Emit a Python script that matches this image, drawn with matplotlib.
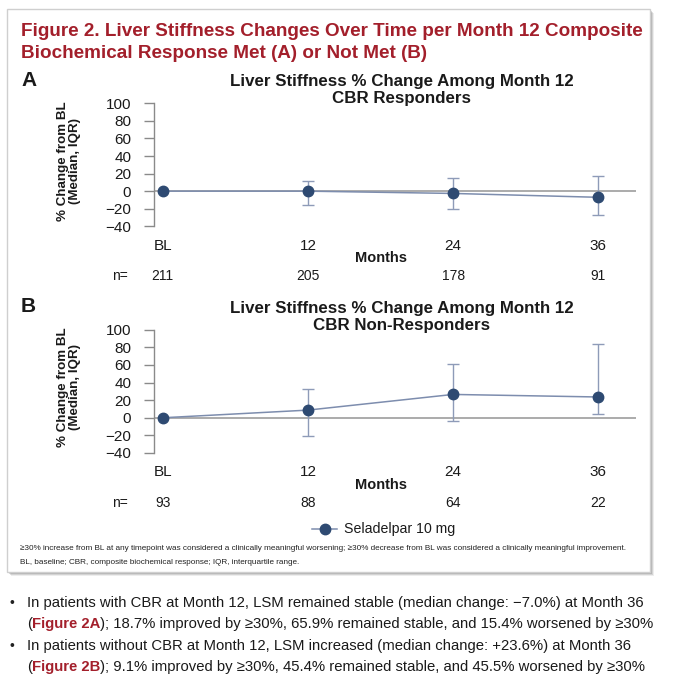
import matplotlib
matplotlib.use('Agg')
import matplotlib.pyplot as plt
from matplotlib import font_manager
from matplotlib.patches import Rectangle

# ---- data ----
months = [0, 12, 24, 36]
month_labels = ['BL', '12', '24', '36']

resp_median = [0, 0, -2.6, -7.0]
resp_q1 = [0, -15.8, -20, -27.5]
resp_q3 = [0, 11.3, 15.5, 17]
resp_n = [211, 205, 178, 91]

nonresp_median = [0, 8.7, 26.5, 23.6]
nonresp_q1 = [0, -21.2, -3.8, 4.2]
nonresp_q3 = [0, 32.2, 60.6, 83.7]
nonresp_n = [93, 88, 64, 22]

yticks = [-40, -20, 0, 20, 40, 60, 80, 100]

W, H = 677, 679
DPI = 100

names = {f.name for f in font_manager.fontManager.ttflist}
NARROW = 'Liberation Sans Narrow' if 'Liberation Sans Narrow' in names else 'Liberation Sans'
REG = 'Liberation Sans'
RED = '#A31F2B'
NAVY = '#2E4A72'
LINEC = '#7D8DAE'
ERRC = '#8E9BB8'

plt.rcParams['font.family'] = [REG, 'DejaVu Sans']

fig = plt.figure(figsize=(W / DPI, H / DPI), dpi=DPI)
renderer = fig.canvas.get_renderer()


def fx(x):
    return x / W


def fy(y):
    return 1 - y / H


# panel box with a soft shadow
for k, a in enumerate([0.10, 0.16, 0.22]):
    off = 4 - k
    fig.patches.append(Rectangle((fx(7 + off), fy(572 + off)), fx(643), 563 / H,
                                 transform=fig.transFigure, facecolor='#505050',
                                 edgecolor='none', alpha=a, zorder=0))
fig.patches.append(Rectangle((fx(7), fy(572)), fx(643), 563 / H,
                             transform=fig.transFigure, facecolor='white',
                             edgecolor='#CFCFCF', lw=1, zorder=1))

fig.text(fx(21), fy(31), 'Figure 2. Liver Stiffness Changes Over Time per Month 12 Composite',
         color=RED, fontsize=13.6, fontweight='bold', va='center', ha='left')
fig.text(fx(21), fy(53), 'Biochemical Response Met (A) or Not Met (B)',
         color=RED, fontsize=13.6, fontweight='bold', va='center', ha='left')

panels = [
    ('A', 80, 103.3, 226.3, 258, 276, 'Liver Stiffness % Change Among Month 12\nCBR Responders',
     resp_median, resp_q1, resp_q3, resp_n),
    ('B', 307, 329.7, 453, 485, 503, 'Liver Stiffness % Change Among Month 12\nCBR Non-Responders',
     nonresp_median, nonresp_q1, nonresp_q3, nonresp_n),
]

x_left, x_right = 153.5, 636
x_bl, x_36 = 162.7, 598.3
ppm = (x_36 - x_bl) / 36.0

for letter, ylet, y100, ym40, ymon, yn, title, med, q1, q3, nn in panels:
    ax = fig.add_axes([fx(x_left), fy(ym40), (x_right - x_left) / W, (ym40 - y100) / H])
    ax.set_xlim((x_left - x_bl) / ppm, (x_right - x_bl) / ppm)
    ax.set_ylim(-40, 100)
    for s in ['top', 'right', 'bottom']:
        ax.spines[s].set_visible(False)
    ax.spines['left'].set_color('#8A8A8A')
    ax.spines['left'].set_linewidth(1.0)
    ax.set_yticks(yticks)
    ax.set_yticklabels([str(t).replace('-', '\u2212') for t in yticks])
    ax.tick_params(axis='y', length=7.5, width=1, color='#8A8A8A', pad=8.5,
                   labelsize=11, labelcolor='#1A1A1A')
    for lab in ax.get_yticklabels():
        lab.set_fontfamily(NARROW)
    ax.set_xticks(months)
    ax.set_xticklabels(month_labels)
    ax.tick_params(axis='x', length=0, pad=9, labelsize=11, labelcolor='#1A1A1A')
    for lab in ax.get_xticklabels():
        lab.set_fontfamily(NARROW)
    ax.patch.set_alpha(0)
    ax.set_zorder(3)

    ax.axhline(0, color='#A5A5A5', lw=1.3, zorder=1)
    lower = [m - a for m, a in zip(med, q1)]
    upper = [b - m for m, b in zip(med, q3)]
    ax.errorbar(months[1:], med[1:], yerr=[lower[1:], upper[1:]], fmt='none',
                ecolor=ERRC, elinewidth=1, capsize=4, capthick=1, zorder=2)
    ax.plot(months, med, color=LINEC, lw=1.1, zorder=3)
    ax.plot(months, med, 'o', color=NAVY, ms=7.5, zorder=4, clip_on=False)

    fig.text(fx(21), fy(ylet), letter, fontsize=15, fontweight='bold', va='center',
             ha='left', color='#1A1A1A')
    fig.text(fx(402), fy(ylet + 10), title, fontsize=12.2, fontweight='bold', ha='center',
             va='center', color='#1A1A1A', linespacing=1.2)
    fig.text(fx(69), fy((y100 + ym40) / 2 - 4), '% Change from BL\n(Median, IQR)', rotation=90,
             fontsize=9.6, fontweight='bold', ha='center', va='center', color='#1A1A1A',
             linespacing=0.95)
    fig.text(fx(x_bl + ppm * 18), fy(ymon), 'Months', fontsize=10.5, fontweight='bold',
             ha='center', va='center', color='#1A1A1A', family=NARROW)
    fig.text(fx(128), fy(yn), 'n=', fontsize=10, ha='right', va='center', color='#1A1A1A',
             family=NARROW)
    for m, v in zip(months, nn):
        ax.annotate(str(v), xy=(m, H - yn), xycoords=('data', 'figure pixels'),
                    ha='center', va='center', fontsize=10, color='#1A1A1A',
                    family=NARROW, annotation_clip=False)

# legend
fig.lines.append(plt.Line2D([fx(312), fx(337)], [fy(529), fy(529)], transform=fig.transFigure,
                            color=LINEC, lw=1.1))
fig.lines.append(plt.Line2D([fx(325)], [fy(529)], transform=fig.transFigure, marker='o',
                            color=NAVY, ms=7.5))
fig.text(fx(344), fy(529), 'Seladelpar 10 mg', fontsize=10.2, va='center', ha='left',
         color='#1A1A1A')

fig.text(fx(20), fy(549), '\u226530% increase from BL at any timepoint was considered a clinically '
         'meaningful worsening; \u226530% decrease from BL was considered a clinically meaningful improvement.',
         fontsize=5.9, va='center', ha='left', color='#222222', family=NARROW)
fig.text(fx(20), fy(562), 'BL, baseline; CBR, composite biochemical response; IQR, interquartile range.',
         fontsize=5.9, va='center', ha='left', color='#222222', family=NARROW)

# bullets below the box
bullet_lines = [
    (603, True, [('In patients with CBR at Month 12, LSM remained stable (median change: \u22127.0%) at Month 36', 'k', 'normal')]),
    (624, False, [('(', 'k', 'normal'), ('Figure 2A', RED, 'bold'),
                  ('); 18.7% improved by \u226530%, 65.9% remained stable, and 15.4% worsened by \u226530%', 'k', 'normal')]),
    (646, True, [('In patients without CBR at Month 12, LSM increased (median change: +23.6%) at Month 36', 'k', 'normal')]),
    (667, False, [('(', 'k', 'normal'), ('Figure 2B', RED, 'bold'),
                  ('); 9.1% improved by \u226530%, 45.4% remained stable, and 45.5% worsened by \u226530%', 'k', 'normal')]),
]

# one font size for all bullet lines, so the widest ends near x=656 like the reference
widest = 0
for y, has_bullet, parts in bullet_lines:
    wsum = 0
    for s, c, w in parts:
        p = fig.text(0, 0, s, fontsize=12, fontweight=w, family=[NARROW, REG])
        wsum += p.get_window_extent(renderer).width
        p.remove()
    widest = max(widest, wsum)
bsize = 12 * (656 - 27) / widest

for y, has_bullet, parts in bullet_lines:
    if has_bullet:
        fig.text(fx(9), fy(y), '\u2022', fontsize=10, va='center', ha='left', color='#222222')
    x = 27
    for s, c, w in parts:
        t = fig.text(fx(x), fy(y), s, fontsize=bsize, va='center', ha='left',
                     color='#1A1A1A' if c == 'k' else c, fontweight=w, family=[NARROW, REG])
        x += t.get_window_extent(renderer).width

fig.savefig('out.png', dpi=DPI)
